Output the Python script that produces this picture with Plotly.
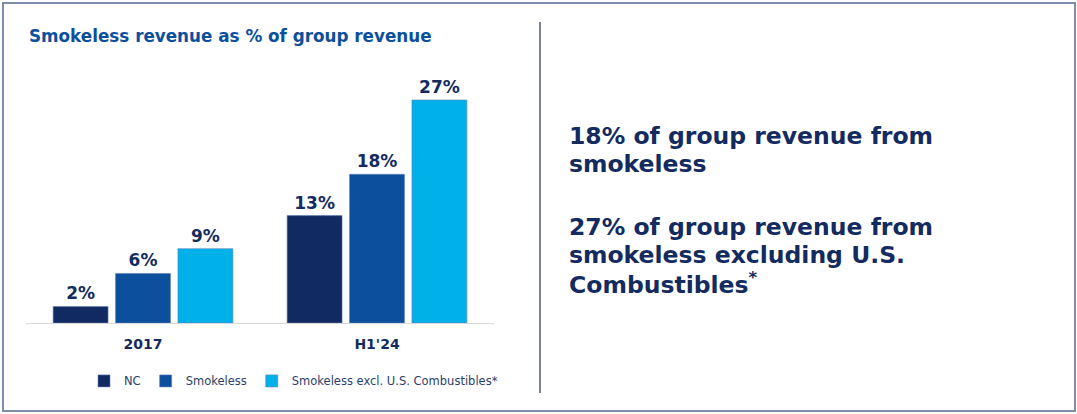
import plotly.graph_objects as go

# data
periods = ["2017", "H1'24"]
nc = [2, 13]
smokeless = [6, 18]
smokeless_excl_us = [9, 27]
series_names = ["NC", "Smokeless", "Smokeless excl. U.S. Combustibles*"]
colors = ["#112a61", "#0b4f9d", "#00b1e9"]

W, H = 1077, 414
NAVY = "#132b5f"
FONT = "DejaVu Sans"

fig = go.Figure()
for i, (name, vals, col) in enumerate(zip(series_names, [nc, smokeless, smokeless_excl_us], colors)):
    fig.add_trace(go.Bar(
        x=periods, y=vals, name=name, offsetgroup=str(i),
        marker=dict(color=col, line=dict(color="#5f7fb5", width=0.6)),
        text=[f"<b>{v}%</b>" for v in vals], textposition="outside",
        textfont=dict(family=FONT, size=17, color=NAVY),
        cliponaxis=False,
    ))

fig.update_layout(
    width=W, height=H,
    margin=dict(l=0, r=0, t=0, b=0),
    paper_bgcolor="white", plot_bgcolor="white",
    barmode="group", bargap=0.2, bargroupgap=0.12,
    uniformtext=dict(minsize=17),
    showlegend=True,
    legend=dict(
        orientation="h", x=0.078, y=0.08, xanchor="left", yanchor="middle",
        font=dict(family=FONT, size=11.5, color="#2c3e6a"),
        itemwidth=30, bgcolor="rgba(0,0,0,0)",
    ),
    xaxis=dict(
        domain=[26 / W, 494 / W], showgrid=False, showline=True,
        linecolor="#d9d9d9", linewidth=1, ticks="",
        tickfont=dict(family=FONT, size=14, color=NAVY),
        ticklabelstandoff=8,
        tickvals=periods, ticktext=[f"<b>{p}</b>" for p in periods],
    ),
    yaxis=dict(
        domain=[1 - 323 / H, 1 - 75.2 / H], range=[0, 30],
        visible=False, showgrid=False, zeroline=False,
    ),
)

# title
fig.add_annotation(
    text="<b>Smokeless revenue as % of group revenue</b>",
    xref="paper", yref="paper", x=27 / W, y=1 - 36 / H,
    xanchor="left", yanchor="middle", showarrow=False,
    font=dict(family=FONT, size=16.8, color="#0b4f9d"),
)

# right-hand statements, one line each for tight leading
right_lines = [
    ("<b>18% of group revenue from</b>", 136),
    ("<b>smokeless</b>", 164),
    ("<b>27% of group revenue from</b>", 227),
    ("<b>smokeless excluding U.S.</b>", 255),
    ("<b>Combustibles<sup>*</sup></b>", 283),
]
for txt, ypx in right_lines:
    fig.add_annotation(
        text=txt, xref="paper", yref="paper", x=567 / W, y=1 - ypx / H,
        xanchor="left", yanchor="middle", align="left", showarrow=False,
        font=dict(family=FONT, size=23.5, color=NAVY),
    )

# divider and outer frame
fig.add_shape(type="line", xref="paper", yref="paper",
              x0=540 / W, x1=540 / W, y0=1 - 393 / H, y1=1 - 22 / H,
              line=dict(color="#1f2f5a", width=1.2))
fig.add_shape(type="rect", xref="paper", yref="paper",
              x0=3 / W, x1=1075 / W, y0=1 - 411 / H, y1=1 - 3 / H,
              line=dict(color="#7d8daa", width=2))

fig.write_html("out.html", config={"displayModeBar": False},
               post_script="document.body.style.margin='0';document.body.style.overflow='hidden';")
